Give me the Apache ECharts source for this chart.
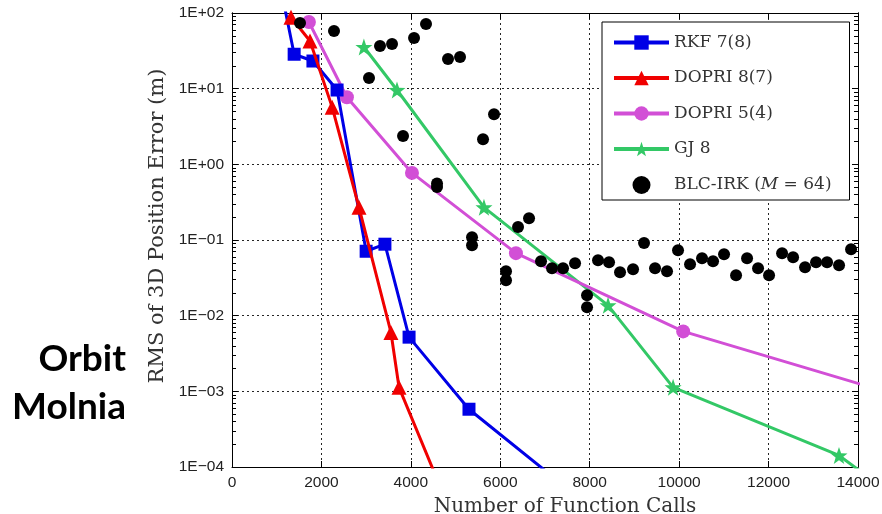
<!DOCTYPE html>
<html>
<head>
<meta charset="utf-8">
<script src="https://cdn.jsdelivr.net/npm/echarts@6/dist/echarts.min.js"></script>
<style>html,body{margin:0;padding:0;background:#fff;}#c{width:882px;height:514px;}</style>
</head>
<body>
<div id="c"></div>
<script>
// ---- data ----
const xTicks = [0, 2000, 4000, 6000, 8000, 10000, 12000, 14000];
const yTickExponents = [-4, -3, -2, -1, 0, 1, 2];

const rkfX = [1100, 1390, 1810, 2350, 3000, 3420, 3960, 5300, 7500];
const rkfY = [200, 28.5, 23.2, 9.6, 0.071, 0.088, 0.0052, 0.00058, 0.000052];

const dopri87X = [1320, 1745, 2240, 2840, 3555, 3735, 4700];
const dopri87Y = [88, 42.6, 5.7, 0.27, 0.0060, 0.00113, 0.0000475];

const dopri54X = [1720, 2570, 4025, 6350, 10090, 15000];
const dopri54Y = [76, 7.7, 0.77, 0.067, 0.0062, 0.00085];

const gj8X = [2950, 3690, 5635, 8410, 9865, 13575, 14500];
const gj8Y = [35.5, 9.6, 0.27, 0.0137, 0.00113, 0.000142, 0.000056];

const blcX = [1521, 2281, 3064, 3310, 3579, 3825, 4071, 4339, 4585, 4585, 4831, 5100, 5368, 5368, 5614, 5860,
  6128, 6128, 6397, 6643, 6911, 7157, 7403, 7672, 7940, 7940, 8186, 8432, 8678, 8969, 9215, 9461, 9729, 9975,
  10244, 10512, 10758, 11004, 11273, 11519, 11765, 12011, 12302, 12548, 12816, 13062, 13308, 13576, 13845];
const blcY = [74, 57.8, 13.8, 36.6, 38.9, 2.36, 46.7, 71.5, 0.56, 0.50, 24.7, 26.2, 0.109, 0.085, 2.15, 4.6,
  0.0386, 0.0294, 0.148, 0.194, 0.0525, 0.0424, 0.0424, 0.0493, 0.0186, 0.0129, 0.054, 0.0508, 0.0375, 0.041, 0.091, 0.0424, 0.0386, 0.0733,
  0.0479, 0.0574, 0.0525, 0.0649, 0.0342, 0.0574, 0.0424, 0.0342, 0.0668, 0.0592, 0.0436, 0.0508, 0.0508, 0.0465, 0.0755];

const seriesNames = ['RKF 7(8)', 'DOPRI 8(7)', 'DOPRI 5(4)', 'GJ 8', 'BLC-IRK (M = 64)'];

// ---- helpers ----
const zip = (xs, ys) => xs.map((x, i) => [x, ys[i]]);
const yMin = Math.pow(10, yTickExponents[0]);
const yMax = Math.pow(10, yTickExponents[yTickExponents.length - 1]);
const minorVals = [];
for (let e = yTickExponents[0]; e < yTickExponents[yTickExponents.length - 1]; e++) {
  for (let m = 2; m <= 9; m++) minorVals.push(m * Math.pow(10, e));
}
const majorVals = yTickExponents.map(e => Math.pow(10, e));
const fmtE = v => {
  const e = Math.round(Math.log10(v));
  return '1E' + (e < 0 ? '\u2212' : '+') + String(Math.abs(e)).padStart(2, '0');
};

const sans = 'Liberation Sans';
const serif = 'DejaVu Serif';
const gridLine = { show: true, lineStyle: { color: '#000', type: [2, 3], width: 1, opacity: 0.85 } };

function yAx(opts) {
  return Object.assign({
    type: 'log', logBase: 10, min: yMin, max: yMax,
    axisLine: { show: true, lineStyle: { color: '#000', width: 1 } },
    axisTick: { show: false },
    axisLabel: { show: false },
    splitLine: { show: false },
    minorTick: { show: false }
  }, opts);
}

const chart = echarts.init(document.getElementById('c'), null, { renderer: 'canvas' });
const option = {
  animation: false,
  backgroundColor: '#fff',
  grid: { left: 232, right: 24, top: 13, bottom: 47, containLabel: false, outerBoundsMode: 'none' },
  legend: {
    orient: 'vertical',
    left: 602, top: 22,
    data: seriesNames,
    backgroundColor: '#fff',
    borderColor: '#000', borderWidth: 1,
    padding: [12, 18, 6, 10],
    itemWidth: 55, itemHeight: 18, itemGap: 18.5,
    lineStyle: { width: 4 },
    formatter: n => n === 'BLC-IRK (M = 64)' ? 'BLC-IRK ({i|M} = 64)' : n,
    textStyle: {
      fontFamily: serif, fontSize: 17, color: '#333',
      rich: { i: { fontFamily: serif, fontSize: 17, fontStyle: 'italic', color: '#333' } }
    }
  },
  xAxis: [
    {
      type: 'value', min: xTicks[0], max: xTicks[xTicks.length - 1], interval: 2000, position: 'bottom',
      axisLine: { show: true, onZero: false, lineStyle: { color: '#000', width: 1 } },
      axisTick: { show: true, inside: true, length: 6, lineStyle: { color: '#000' } },
      axisLabel: { color: '#222', fontSize: 15.5, fontFamily: sans, margin: 8, formatter: v => String(v) },
      splitLine: gridLine,
      name: 'Number of Function Calls', nameLocation: 'middle', nameGap: 30,
      nameTextStyle: { fontFamily: serif, fontSize: 20, color: '#333', padding: [0, 0, 0, 40] }
    },
    {
      type: 'value', min: xTicks[0], max: xTicks[xTicks.length - 1], interval: 2000, position: 'top',
      axisLine: { show: true, onZero: false, lineStyle: { color: '#000', width: 1 } },
      axisTick: { show: true, inside: true, length: 6, lineStyle: { color: '#000' } },
      axisLabel: { show: false }, splitLine: { show: false }
    }
  ],
  yAxis: [
    yAx({
      position: 'left', interval: 1,
      axisTick: { show: true, inside: true, length: 6, lineStyle: { color: '#000' }, customValues: majorVals },
      axisLabel: { show: true, color: '#222', fontSize: 15.5, fontFamily: sans, margin: 8, formatter: fmtE, customValues: majorVals },
      splitLine: gridLine,
      name: 'RMS of 3D Position Error (m)', nameLocation: 'middle', nameGap: 62,
      nameTextStyle: { fontFamily: serif, fontSize: 21, color: '#333', padding: [0, 0, 0, 28] }
    }),
    yAx({ position: 'left', axisTick: { show: true, inside: true, length: 4, lineStyle: { color: '#000' }, customValues: minorVals } }),
    yAx({ position: 'right', axisTick: { show: true, inside: true, length: 6, lineStyle: { color: '#000' }, customValues: majorVals } }),
    yAx({ position: 'right', axisTick: { show: true, inside: true, length: 4, lineStyle: { color: '#000' }, customValues: minorVals } })
  ],
  series: [
    {
      name: seriesNames[0], type: 'line', data: zip(rkfX, rkfY), z: 4,
      symbol: 'rect', symbolSize: 13, color: '#0000e6',
      lineStyle: { width: 3, color: '#0000e6' }, itemStyle: { color: '#0000e6' }
    },
    {
      name: seriesNames[1], type: 'line', data: zip(dopri87X, dopri87Y), z: 5,
      symbol: 'triangle', symbolSize: 15, color: '#f00000',
      lineStyle: { width: 3, color: '#f00000' }, itemStyle: { color: '#f00000' }
    },
    {
      name: seriesNames[2], type: 'line', data: zip(dopri54X, dopri54Y), z: 3,
      symbol: 'circle', symbolSize: 14, color: '#d24fd6',
      lineStyle: { width: 3, color: '#d24fd6' }, itemStyle: { color: '#d24fd6' }
    },
    {
      name: seriesNames[3], type: 'line', data: zip(gj8X, gj8Y), z: 2,
      symbol: 'path://M0,-10 L2.35,-3.24 L9.51,-3.09 L3.8,1.24 L5.88,8.09 L0,4 L-5.88,8.09 L-3.8,1.24 L-9.51,-3.09 L-2.35,-3.24 Z',
      symbolSize: 17, color: '#33c866',
      lineStyle: { width: 3, color: '#33c866' }, itemStyle: { color: '#33c866' }
    },
    {
      name: seriesNames[4], type: 'scatter', data: zip(blcX, blcY), z: 6,
      symbol: 'circle', symbolSize: 12, color: '#000', itemStyle: { color: '#000', opacity: 1 }
    }
  ],
  graphic: [
    { type: 'text', right: 756, top: 341, style: { text: 'Orbit', font: 'bold 37px Lato', fill: '#000' } },
    { type: 'text', right: 756, top: 389, style: { text: 'Molnia', font: 'bold 37px Lato', fill: '#000' } }
  ]
};
chart.setOption(option);
</script>
</body>
</html>
